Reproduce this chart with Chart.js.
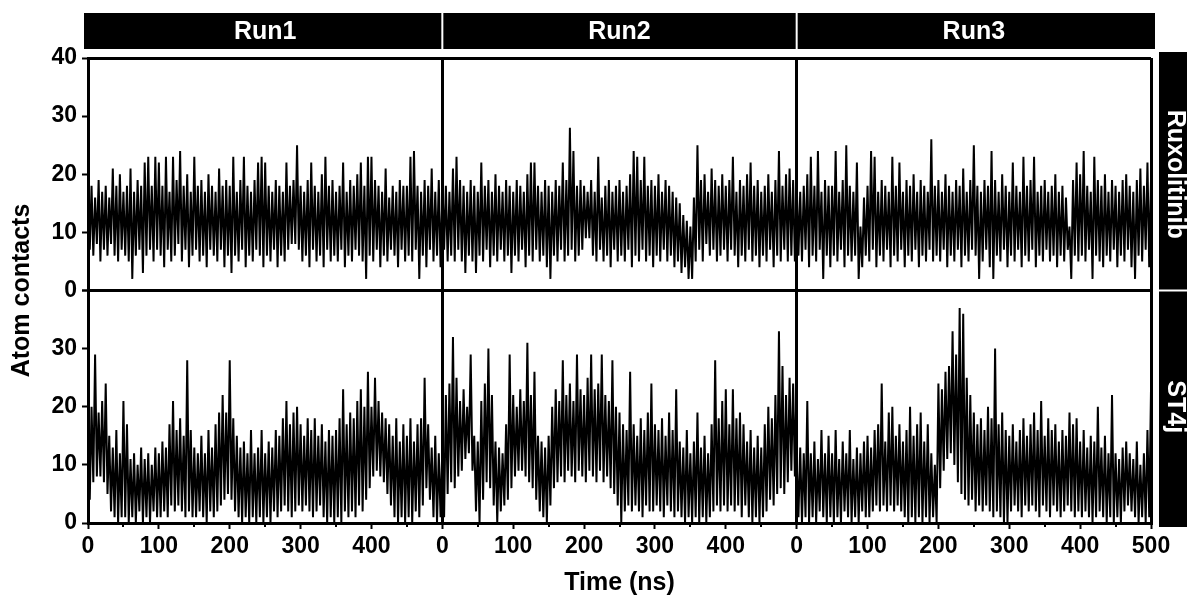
<!DOCTYPE html>
<html>
<head>
<meta charset="utf-8">
<title>Atom contacts</title>
<script src="https://cdn.jsdelivr.net/npm/chart.js@4.4.1/dist/chart.umd.min.js"></script>
<style>
  html, body { margin: 0; padding: 0; background: #fff; }
  #wrap { width: 1187px; height: 598px; position: relative; }
</style>
</head>
<body>
<div id="wrap"><canvas id="contacts" width="1187" height="598"></canvas></div>
<script>
// ─── Atom contacts vs time: 3 runs x 2 ligands, facet grid ───

const runs = ['Run1', 'Run2', 'Run3'];
const ligands = ['Ruxolitinib', 'ST4j'];
const runLengthNs = 500;
const sampleStepNs = 2.5;      // one sample every 2.5 ns, 201 per run
const yTickStep = 10;
const xTickStep = 100;         // minor marks at 50 ns drawn by the plugin

// contact counts (alternating crest / trough samples)
const rux1 = [
  17,7,18,6,16,8,19,5,17,7,18,6,16,8,21,6,18,5,20,7,
  17,6,18,5,21,2,17,6,19,7,18,3,22,6,23,7,18,5,23,7,
  22,6,18,4,23,7,17,5,23,6,19,8,24,5,18,7,20,4,17,6,
  23,7,18,5,19,6,17,4,20,7,18,6,17,5,21,7,18,4,19,6,
  18,3,23,6,17,5,19,7,23,4,18,6,17,5,19,7,22,6,23,4,
  22,6,18,5,17,7,19,4,18,6,17,5,22,7,18,8,19,8,25,7,
  18,5,17,6,19,4,22,7,18,5,17,6,20,4,23,7,18,5,19,6,
  17,5,18,7,22,4,17,6,19,5,18,7,20,6,22,5,18,2,23,6,
  23,5,19,7,18,4,17,6,21,5,16,7,18,6,17,4,19,7,18,5,
  18,6,23,5,24,7,18,2,17,6,19,4,18,7,21,5,17,6,19,4,16
];
const rux2 = [
  20,7,18,5,17,6,21,5,23,7,19,5,18,3,17,6,19,5,18,3,
  17,6,22,5,18,7,19,4,17,6,20,5,18,7,17,5,19,6,18,3,
  17,6,19,5,18,7,17,4,20,6,22,5,22,7,18,5,17,6,19,4,
  18,2,17,6,19,5,18,7,22,5,19,6,28,7,24,5,18,6,19,7,
  18,9,17,9,19,6,17,5,23,7,16,5,18,6,19,4,17,7,18,5,
  19,6,17,5,18,7,20,4,24,6,23,5,19,7,23,5,18,6,19,4,
  18,6,20,5,17,7,19,5,18,6,17,4,16,5,15,3,13,4,12,2,
  11,2,16,5,25,7,19,5,20,8,17,6,21,7,19,5,18,6,20,7,
  18,5,19,7,23,6,17,4,19,6,18,5,20,7,22,5,18,6,19,4,
  17,6,18,5,20,7,17,4,19,6,24,5,18,7,20,5,21,6,19,5,17
];
const rux3 = [
  19,6,17,5,18,7,20,4,23,6,18,5,24,7,17,2,19,6,18,4,
  18,6,24,5,17,7,19,4,25,6,18,5,17,6,22,2,11,4,16,6,
  18,5,24,7,23,4,17,6,19,5,18,7,17,4,23,6,18,5,22,7,
  17,4,19,6,18,5,20,7,17,4,19,6,18,5,17,7,26,5,18,6,
  19,5,17,7,20,4,18,6,17,5,19,7,18,4,21,6,17,5,19,7,
  25,6,18,2,17,5,19,7,18,4,24,2,19,6,17,5,20,7,18,4,
  17,6,22,5,18,7,17,4,23,6,18,5,19,7,23,4,17,6,18,5,
  19,7,17,5,18,6,20,4,17,6,18,5,16,7,11,2,19,6,22,5,
  20,6,24,5,18,7,17,2,23,6,19,5,18,4,20,6,17,5,19,7,
  18,4,17,6,19,5,20,7,18,4,17,2,19,6,21,5,18,7,22,4,19
];
const st4j1 = [
  14,4,20,7,29,8,19,8,21,7,24,5,15,2,13,1,16,0,12,1,
  21,1,17,0,11,1,12,0,10,2,13,0,11,1,12,0,10,2,13,1,
  12,1,14,2,13,1,17,3,21,2,16,3,18,2,15,1,28,2,16,1,
  13,1,12,2,15,1,12,0,16,2,13,1,17,2,19,3,22,4,19,5,
  28,4,18,2,15,1,13,0,14,1,12,0,16,1,12,0,13,1,16,0,
  12,1,14,0,13,2,16,1,15,2,18,3,21,2,17,1,19,2,20,3,
  17,2,15,3,18,2,16,1,18,2,15,3,17,1,14,0,16,1,15,0,
  16,1,18,0,23,2,17,1,19,2,18,1,21,3,23,2,20,4,26,6,
  20,8,25,9,21,8,19,7,18,5,17,3,15,1,18,0,14,1,17,0,
  15,1,18,0,14,2,17,1,18,3,25,6,17,4,13,1,15,0,12,1,13
];
const st4j2 = [
  17,1,22,5,24,7,32,6,25,8,21,9,23,11,20,12,29,9,15,2,
  14,0,21,4,24,7,30,6,22,3,14,0,13,2,12,3,17,4,29,6,
  22,8,20,9,23,9,21,8,31,7,22,6,26,4,15,2,14,1,13,0,
  15,3,20,6,23,7,21,8,28,7,22,9,24,8,21,7,29,9,23,8,
  22,7,25,9,29,8,23,7,24,9,29,7,22,8,21,6,28,5,20,3,
  19,0,17,2,16,3,26,2,17,3,15,2,18,1,16,3,19,2,24,2,
  17,3,16,2,18,1,15,3,19,2,16,1,23,2,14,1,13,0,16,1,
  12,0,14,1,19,0,13,1,15,0,12,1,17,2,28,3,18,2,21,3,
  23,2,17,3,23,2,18,3,19,1,17,3,14,1,16,0,13,1,15,0,
  13,1,17,2,20,4,18,3,22,5,33,6,27,5,22,7,25,9,24,8,26
];
const st4j3 = [
  11,1,13,0,12,1,21,0,12,1,14,0,11,2,16,1,12,0,15,1,
  12,0,16,1,11,0,14,2,12,1,16,0,11,1,13,0,12,2,14,1,
  15,1,13,2,16,3,17,2,24,3,14,2,19,3,20,2,15,3,17,2,
  14,1,16,0,20,1,15,0,17,1,19,0,14,1,17,0,12,1,10,0,
  24,6,23,9,26,11,27,12,33,10,29,7,37,5,36,4,25,3,22,4,
  19,2,17,3,18,2,16,3,20,2,18,1,30,2,17,1,19,0,16,0,
  15,2,17,3,14,2,16,1,18,3,15,2,17,3,19,2,16,1,21,3,
  15,2,18,1,16,3,17,2,14,1,16,2,15,3,19,2,17,1,18,2,
  14,1,16,2,13,1,15,0,14,1,20,2,13,1,15,0,12,1,22,0,
  12,1,11,0,13,2,14,3,12,2,11,1,14,0,10,1,12,0,16,1,23
];

const contacts = { Ruxolitinib: [rux1, rux2, rux3], ST4j: [st4j1, st4j2, st4j3] };

const FAMILY = '"Liberation Sans", Arial, Helvetica, sans-serif';
const tickFont = { family: FAMILY, size: 23, weight: 'bold' };
const clear = 'rgba(0,0,0,0)';
const xMax = runs.length * runLengthNs;
const axisIds = { Ruxolitinib: 'yRux', ST4j: 'yST4j' };

function runSeries(values, run, ligand) {
  return {
    label: ligand + ' ' + runs[run],
    yAxisID: axisIds[ligand],
    data: values.map((v, i) => ({ x: run * runLengthNs + i * sampleStepNs, y: v })),
    borderColor: '#000',
    borderWidth: 2,
    borderJoinStyle: 'bevel',
    pointRadius: 0,
    tension: 0,
    fill: false
  };
}

const datasets = [];
ligands.forEach(lig => contacts[lig].forEach((vals, r) => datasets.push(runSeries(vals, r, lig))));

function yPanel(hideTopLabel) {
  return {
    type: 'linear', position: 'left', stack: 'panels', stackWeight: 1,
    min: 0, max: 40,
    border: { color: '#000', width: 3 },
    grid: {
      color: c => (c.tick && c.tick.value === 40) ? '#000' : clear,
      lineWidth: 3, tickColor: '#000', tickWidth: 2, tickLength: 6
    },
    ticks: {
      stepSize: yTickStep, padding: 5, color: '#000', font: tickFont,
      callback: v => (hideTopLabel && v === 40) ? '' : v
    },
    afterFit: s => { s.width = 88; }
  };
}

// strips, minor ticks and the shared y title
const facetDecor = {
  id: 'facetDecor',
  afterDraw(chart) {
    const { ctx, chartArea: area } = chart;
    const x = chart.scales.x, yTop = chart.scales.yRux, yBot = chart.scales.yST4j;
    ctx.save();

    ctx.strokeStyle = '#000';
    ctx.lineWidth = 2;
    for (let v = xTickStep / 2; v < xMax; v += xTickStep) {
      const px = Math.round(x.getPixelForValue(v));
      ctx.beginPath(); ctx.moveTo(px, area.bottom); ctx.lineTo(px, area.bottom + 4); ctx.stroke();
    }

    // top: run labels
    const stripTop = area.top - 45, stripH = 36;
    ctx.fillStyle = '#000';
    ctx.fillRect(area.left - 4, stripTop, area.width + 8, stripH);
    ctx.strokeStyle = '#fff';
    for (let r = 1; r < runs.length; r++) {
      const px = x.getPixelForValue(r * runLengthNs);
      ctx.beginPath(); ctx.moveTo(px, stripTop); ctx.lineTo(px, stripTop + stripH); ctx.stroke();
    }
    ctx.fillStyle = '#fff';
    ctx.font = 'bold 25px ' + FAMILY;
    ctx.textAlign = 'center';
    ctx.textBaseline = 'middle';
    runs.forEach((name, r) => {
      const cx = (x.getPixelForValue(r * runLengthNs) + x.getPixelForValue((r + 1) * runLengthNs)) / 2;
      ctx.fillText(name, cx, stripTop + stripH / 2 + 1);
    });

    // right: ligand labels
    const sx = area.right + 8;
    ctx.fillStyle = '#000';
    ctx.fillRect(sx, yTop.top - 6, chart.width - sx + 10, yBot.bottom + 4 - (yTop.top - 6));
    ctx.strokeStyle = '#fff';
    ctx.beginPath(); ctx.moveTo(sx, yTop.bottom); ctx.lineTo(chart.width, yTop.bottom); ctx.stroke();
    ctx.fillStyle = '#fff';
    [yTop, yBot].forEach((s, i) => {
      ctx.save();
      ctx.translate(sx + 16, (s.top + s.bottom) / 2);
      ctx.rotate(Math.PI / 2);
      ctx.fillText(ligands[i], 0, 0);
      ctx.restore();
    });

    ctx.fillStyle = '#000';
    ctx.save();
    ctx.translate(22, (area.top + area.bottom) / 2);
    ctx.rotate(-Math.PI / 2);
    ctx.fillText('Atom contacts', 0, 0);
    ctx.restore();

    ctx.restore();
  }
};

new Chart(document.getElementById('contacts'), {
  type: 'line',
  data: { datasets },
  options: {
    responsive: false,
    animation: false,
    devicePixelRatio: 1,
    layout: { padding: { top: 58, right: 36, left: 0, bottom: 0 } },
    plugins: { legend: { display: false }, tooltip: { enabled: false } },
    scales: {
      x: {
        type: 'linear', min: 0, max: xMax,
        border: { color: '#000', width: 3 },
        grid: {
          color: c => (c.tick && c.tick.value > 0 && c.tick.value % runLengthNs === 0) ? '#000' : clear,
          lineWidth: 3, tickColor: '#000', tickWidth: 2, tickLength: 6
        },
        ticks: {
          stepSize: xTickStep, autoSkip: false, maxRotation: 0, padding: 4,
          color: '#000', font: tickFont,
          callback: v => v === xMax ? String(runLengthNs) : String(v % runLengthNs)
        },
        title: {
          display: true, text: 'Time (ns)', color: '#000',
          font: { family: FAMILY, size: 25, weight: 'bold' },
          padding: { top: 0, bottom: 0 }
        },
        afterFit: s => { s.height = 75; }
      },
      yST4j: yPanel(true),
      yRux: yPanel(false)
    }
  },
  plugins: [facetDecor]
});
</script>
</body>
</html>
